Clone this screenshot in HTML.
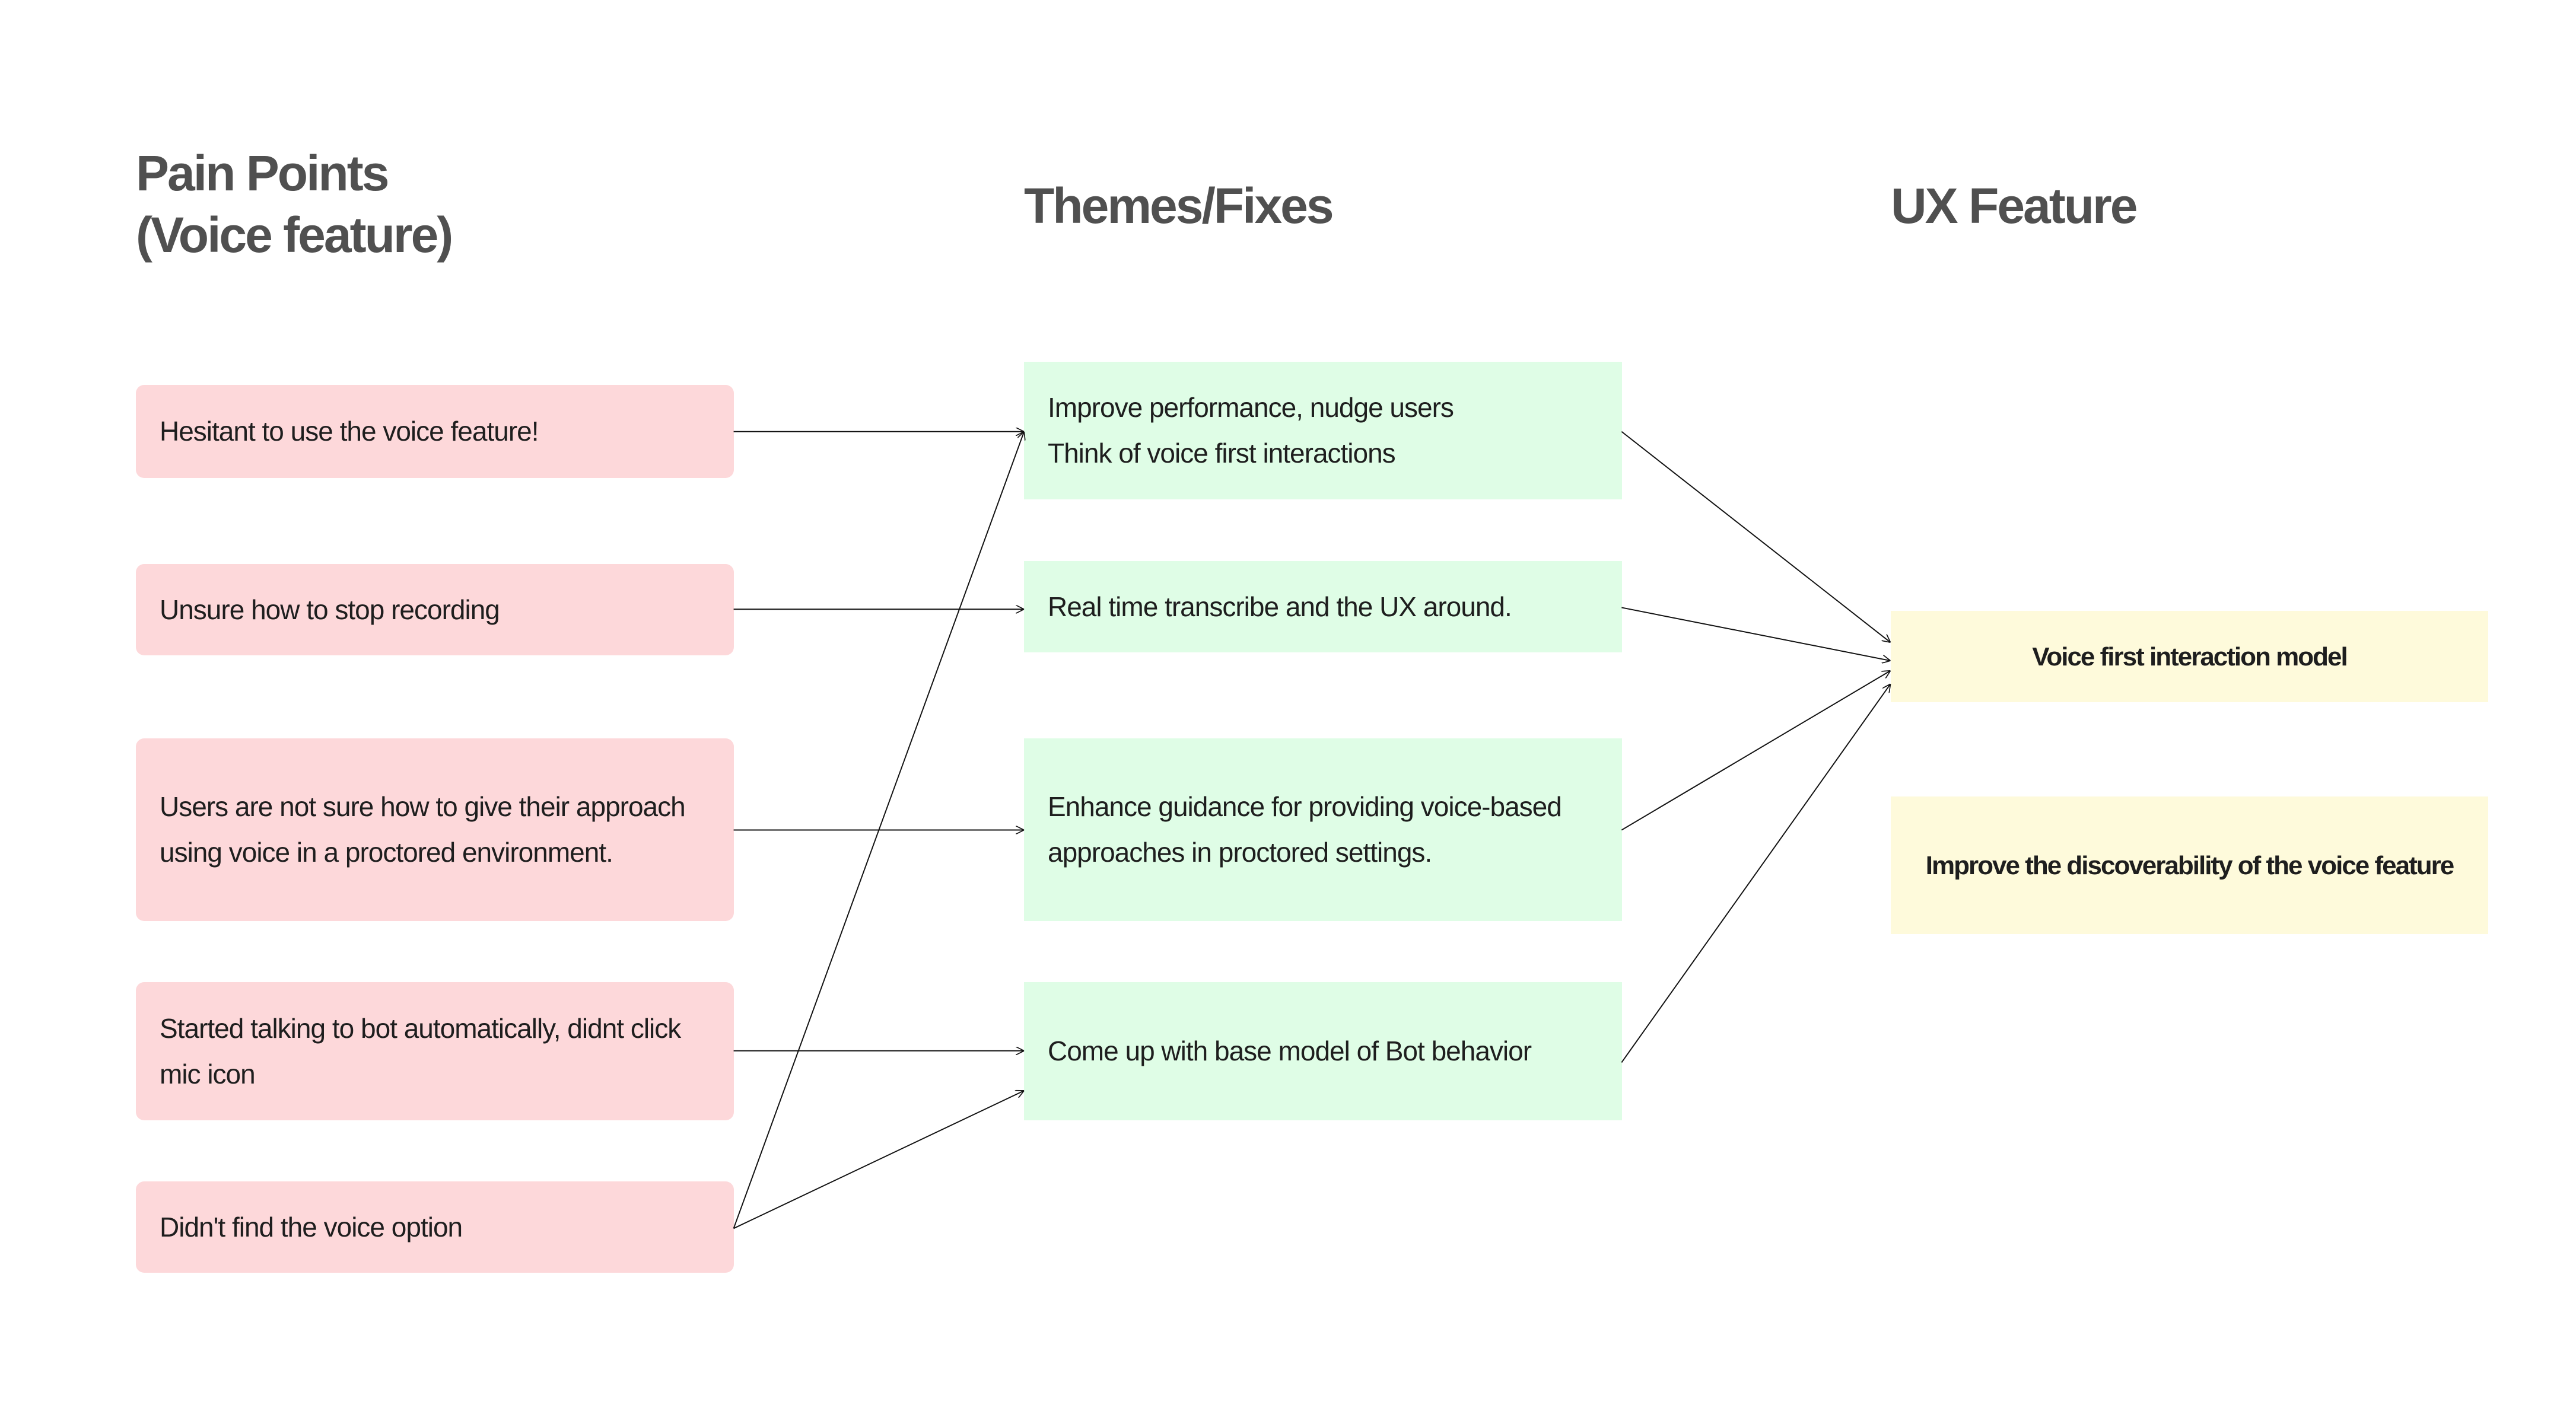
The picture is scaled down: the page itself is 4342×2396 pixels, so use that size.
<!DOCTYPE html>
<html><head><meta charset="utf-8"><style>
html,body{margin:0;padding:0;background:#fff;}
body{width:4342px;height:2396px;position:relative;overflow:hidden;font-family:"Liberation Sans",sans-serif;}
.h{position:absolute;font-weight:bold;color:#505050;font-size:84px;letter-spacing:-3px;line-height:104px;}
.b{position:absolute;display:flex;align-items:center;box-sizing:border-box;padding-left:40px;padding-right:30px;font-size:46px;letter-spacing:-1px;line-height:77px;color:#1e1e1e;}
.p{background:#fdd8da;border-radius:14px;left:229px;width:1008px;}
.g{background:#dffde6;left:1726px;width:1008px;}
.y{background:#fefadb;left:3187px;width:1007px;justify-content:center;text-align:center;padding:0 40px;font-weight:bold;font-size:44px;letter-spacing:-2px;}
svg{position:absolute;left:0;top:0;}
</style></head><body>
<div class="h" style="left:229px;top:240px;">Pain Points<br>(Voice feature)</div>
<div class="h" style="left:1726px;top:295px;">Themes/Fixes</div>
<div class="h" style="left:3187px;top:295px;">UX Feature</div>

<div class="b p" style="top:649px;height:157px;">Hesitant to use the voice feature!</div>
<div class="b p" style="top:951px;height:154px;">Unsure how to stop recording</div>
<div class="b p" style="top:1245px;height:308px;">Users are not sure how to give their approach using voice in a proctored environment.</div>
<div class="b p" style="top:1656px;height:233px;">Started talking to bot automatically, didnt click mic icon</div>
<div class="b p" style="top:1992px;height:154px;">Didn't find the voice option</div>

<div class="b g" style="top:610px;height:232px;">Improve performance, nudge users<br>Think of voice first interactions</div>
<div class="b g" style="top:946px;height:154px;">Real time transcribe and the UX around.</div>
<div class="b g" style="top:1245px;height:308px;">Enhance guidance for providing voice-based approaches in proctored settings.</div>
<div class="b g" style="top:1656px;height:233px;">Come up with base model of Bot behavior</div>

<div class="b y" style="top:1030px;height:154px;">Voice first interaction model</div>
<div class="b y" style="top:1343px;height:232px;">Improve the discoverability of the voice feature</div>

<svg width="4342" height="2396" viewBox="0 0 1552 856" preserveAspectRatio="none">
<defs><marker id="a" viewBox="0 0 10 10" refX="10" refY="5" markerWidth="5" markerHeight="5" orient="auto" markerUnits="userSpaceOnUse"><path d="M0,0 L10,5 L0,10" fill="none" stroke="#111" stroke-width="1.2"/></marker></defs>
<g stroke="#111" stroke-width="0.7" fill="none" marker-end="url(#a)">
<line x1="442" y1="260" x2="617" y2="260"/>
<line x1="442" y1="367" x2="617" y2="367"/>
<line x1="442" y1="500" x2="617" y2="500"/>
<line x1="442" y1="633" x2="617" y2="633"/>
<line x1="442" y1="740" x2="617" y2="260"/>
<line x1="442" y1="740" x2="617" y2="657"/>
<line x1="977" y1="260" x2="1139" y2="387"/>
<line x1="977" y1="366" x2="1139" y2="398"/>
<line x1="977" y1="500" x2="1139" y2="404"/>
<line x1="977" y1="640" x2="1139" y2="412"/>
</g>
</svg>
</body></html>
